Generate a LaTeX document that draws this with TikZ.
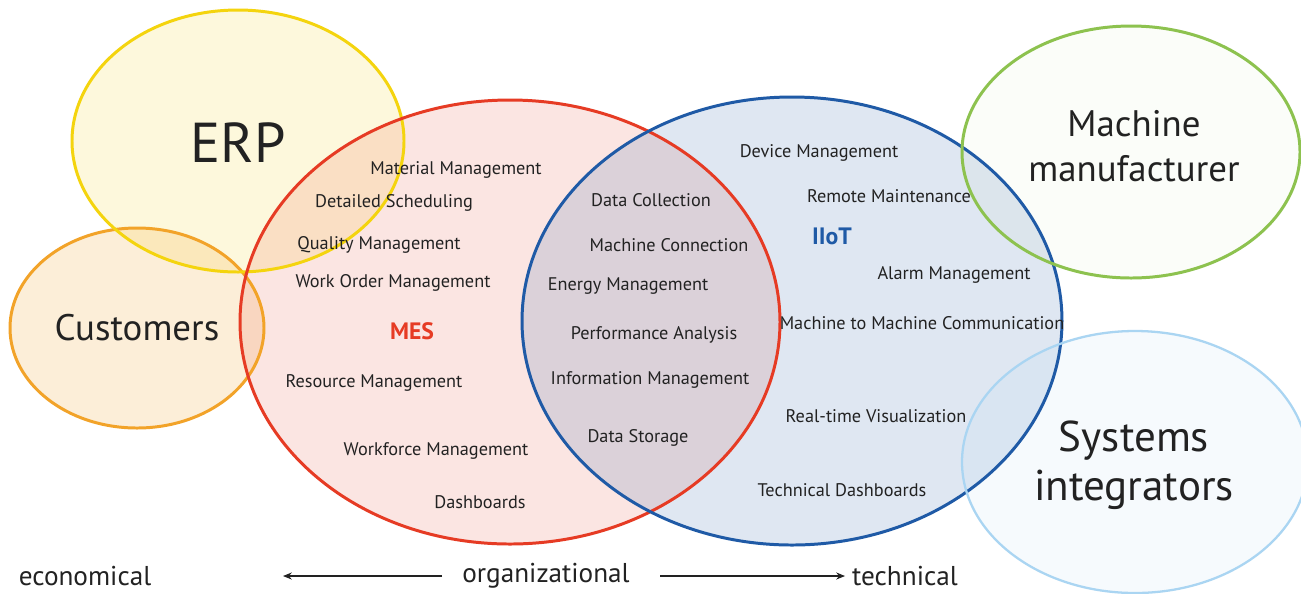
\documentclass[tikz,border=0pt]{standalone}
\usepackage{fontspec}
\setmainfont{PT Sans}
\usepackage{xcolor}
\usetikzlibrary{arrows.meta}
\definecolor{vyellow}{HTML}{F4D40E}
\definecolor{vorange}{HTML}{F2A329}
\definecolor{vred}{HTML}{E63B24}
\definecolor{vblue}{HTML}{1F5AA6}
\definecolor{vgreen}{HTML}{8DC24F}
\definecolor{vlblue}{HTML}{AAD5F2}
\definecolor{vtext}{HTML}{222222}
\newcommand{\itemsize}{\fontsize{10.4}{12}\selectfont}

\begin{document}
\begin{tikzpicture}[x=0.02cm,y=-0.02cm,
    every node/.style={align=center,text=vtext},
    item/.style={font=\itemsize},
    party/.style={font=\fontsize{21}{26}\selectfont},
    axis/.style={font=\fontsize{15.5}{18}\selectfont},
    ring/.style={line width=1.7pt},
    arr/.style={-{Stealth[length=5pt,width=4pt]},line width=0.6pt,vtext}
  ]
  \useasboundingbox (0,0) rectangle (1301,593);
  \fill[white] (0,0) rectangle (1301,593);
  % fills
  \fill[vyellow,fill opacity=0.14] (238,141) ellipse [x radius=166,y radius=131];
  \fill[vorange,fill opacity=0.18] (137,328) ellipse [x radius=127,y radius=100];
  \fill[vred,fill opacity=0.13] (510,322) ellipse [x radius=270,y radius=222];
  \fill[vblue,fill opacity=0.14] (792,321) ellipse [x radius=270,y radius=224];
  \fill[vgreen,fill opacity=0.03] (1131,152) ellipse [x radius=169,y radius=126];
  \fill[vlblue,fill opacity=0.10] (1135,462) ellipse [x radius=173,y radius=131];
  % outlines
  \draw[ring,vorange] (137,328) ellipse [x radius=127,y radius=100];
  \draw[ring,vyellow] (238,141) ellipse [x radius=166,y radius=131];
  \draw[ring,vred] (510,322) ellipse [x radius=270,y radius=222];
  \draw[ring,vblue] (792,321) ellipse [x radius=270,y radius=224];
  \draw[ring,vgreen] (1131,152) ellipse [x radius=169,y radius=126];
  \draw[line width=1.3pt,vlblue] (1135,462) ellipse [x radius=173,y radius=131];

  \node[font=\fontsize{32}{36}\selectfont] (erp) at (238,143) {ERP};
  \node[party] (cust) at (137,328) {Customers};
  \node[party] (mach) at (1134,146) {Machine\\manufacturer};
  \node[font=\fontsize{24.5}{28}\selectfont] (sysint) at (1134,465) {Systems\\integrators};
  \node[font=\fontsize{13.5}{16}\selectfont\bfseries,text=vred] (mes) at (412,331) {MES};
  \node[font=\fontsize{13.5}{16}\selectfont\bfseries,text=vblue] (iiot) at (832,236) {IIoT};

  % MES only
  \foreach \n/\x/\y/\t in {
      matm/456/170/Material Management,
      dsch/394/203/Detailed Scheduling,
      qual/379/245/Quality Management,
      word/393/283/Work Order Management,
      resm/374/383/Resource Management,
      wfm/436/451/Workforce Management,
      dash/480/502/Dashboards}
    \node[item] (\n) at (\x,\y) {\t};
  % shared
  \foreach \n/\x/\y/\t in {
      dcol/651/200/Data Collection,
      mcon/669/245/Machine Connection,
      enm/628/286/Energy Management,
      perf/654/335/Performance Analysis,
      infm/650/380/Information Management,
      dsto/638/438/Data Storage}
    \node[item] (\n) at (\x,\y) {\t};
  % IIoT only
  \foreach \n/\x/\y/\t in {
      devm/819/153/Device Management,
      remm/889/196/Remote Maintenance,
      alm/954/275/Alarm Management,
      mtm/922/323/Machine to Machine Communication,
      rtv/876/416/Real-time Visualization,
      tdash/842/490/Technical Dashboards}
    \node[item] (\n) at (\x,\y) {\t};

  % axis
  \node[axis] (eco) at (85,576) {economical};
  \node[axis] (org) at (546,576) {organizational};
  \node[axis] (tech) at (905,576) {technical};
  \coordinate (ecoend) at (283,576);
  \coordinate (techend) at (845,576);
  \draw[arr] ([xshift=-8pt]org.west) -- (ecoend);
  \draw[arr] ([xshift=14pt]org.east) -- (techend);
\end{tikzpicture}
\end{document}
